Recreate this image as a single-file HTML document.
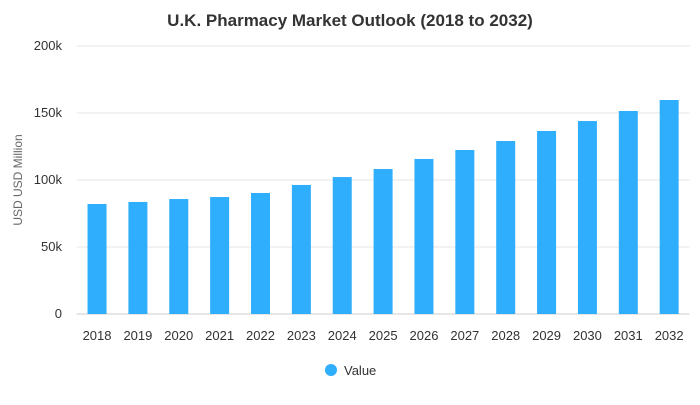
<!DOCTYPE html>
<html><head><meta charset="utf-8"><style>
body{margin:0;background:#fff;font-family:"Liberation Sans",Arial,sans-serif}
</style></head><body>
<svg width="700" height="400" xmlns="http://www.w3.org/2000/svg">
<text x="350" y="26" text-anchor="middle" font-size="17" font-weight="bold" fill="#333">U.K. Pharmacy Market Outlook (2018 to 2032)</text>
<g id="grid"></g>
<g id="yticks"></g>
<g id="bars"></g>
<g id="xticks"></g>
<text transform="translate(22,180) rotate(-90)" text-anchor="middle" font-size="12" fill="#666">USD USD Million</text>
<g>
<circle cx="331" cy="370" r="6" fill="#2eaefc"/>
<text x="344" y="375" font-size="13" fill="#333">Value</text>
</g>
</svg>
<script>
const categories=["2018","2019","2020","2021","2022","2023","2024","2025","2026","2027","2028","2029","2030","2031","2032"];
const values=[82.1,83.6,85.8,87.3,90.3,96.3,102.2,108.2,115.7,122.4,129.1,136.6,144,151.5,159.7];
const yTicks=[0,50,100,150,200];
const yTickLabels=["0","50k","100k","150k","200k"];
const NS="http://www.w3.org/2000/svg";
const L=76.6,R=689.6,T=46,B=314,yMax=200;
const y=v=>B-(v/yMax)*(B-T);
const band=(R-L)/categories.length;
const x=i=>L+band*(i+0.5);
function mk(tag,attrs,parent){const e=document.createElementNS(NS,tag);for(const k in attrs)e.setAttribute(k,attrs[k]);parent.appendChild(e);return e;}
const grid=document.getElementById('grid'),yt=document.getElementById('yticks'),bars=document.getElementById('bars'),xt=document.getElementById('xticks');
yTicks.forEach((t,i)=>{
 const l=mk('line',{x1:L,x2:R,y1:y(t),y2:y(t),stroke:i===0?'#ccc':'#e6e6e6','stroke-width':1},grid);
 
 
 const tx=mk('text',{x:62,y:y(t)+4,'text-anchor':'end','font-size':13,fill:'#333'},yt);
 tx.textContent=yTickLabels[i];
 
 
});
values.forEach((v,i)=>{
 const r=mk('rect',{x:x(i)-9.5,y:y(v),width:19,height:B-y(v),fill:'#2eaefc'},bars);
 
 
 const tx=mk('text',{x:x(i),y:340,'text-anchor':'middle','font-size':13,fill:'#333'},xt);
 tx.textContent=categories[i];
 
 
});
</script>
</body></html>
